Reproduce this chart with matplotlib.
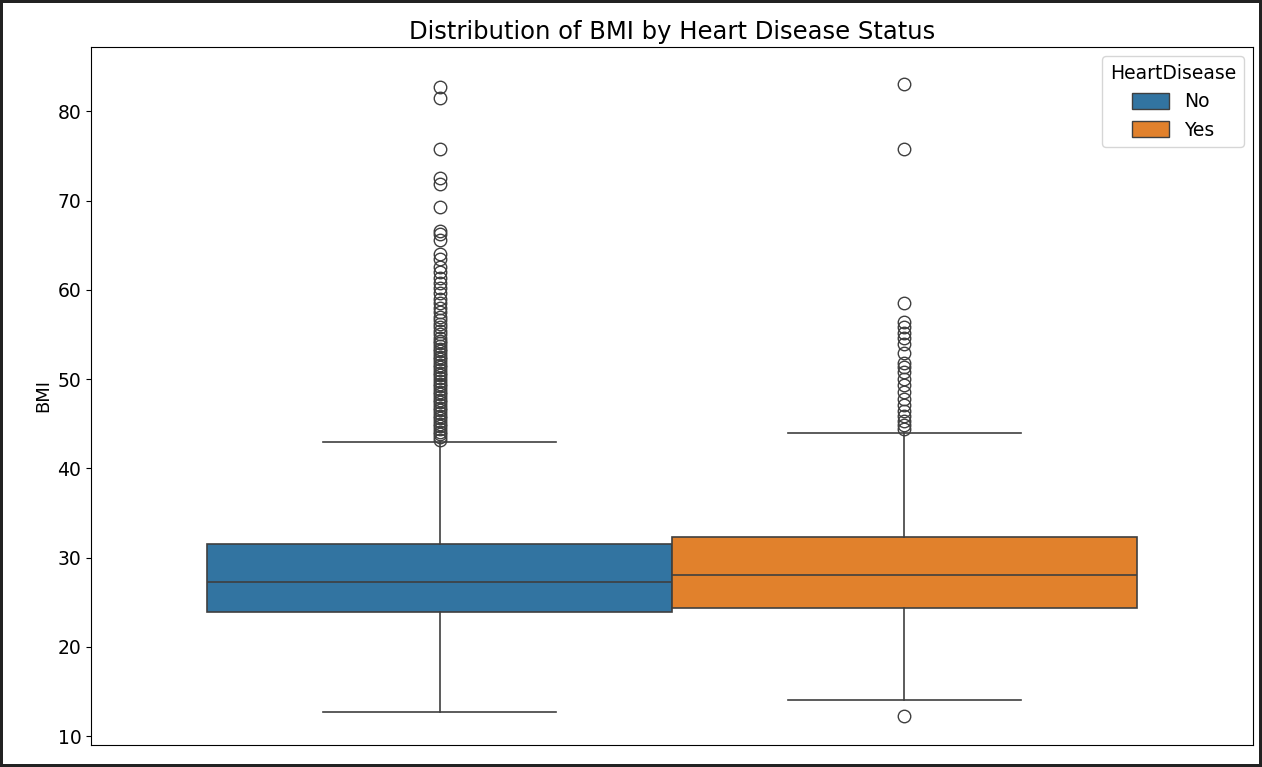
import matplotlib.pyplot as plt
from matplotlib.patches import Patch

groups = ["No", "Yes"]
colors = ["#3274a1", "#e1812c"]
whislo = [12.7, 14.0]
q1 = [23.9, 24.4]
med = [27.3, 28.0]
q3 = [31.5, 32.3]
whishi = [43.0, 44.0]
fliers_no = [43.2, 43.5, 43.8, 44.1, 44.4, 44.7, 45.0, 45.3, 45.6, 45.9, 46.2, 46.5, 46.8,
             47.1, 47.4, 47.7, 48.0, 48.3, 48.6, 48.9, 49.2, 49.5, 49.8, 50.1, 50.4, 50.7,
             51.0, 51.3, 51.6, 51.9, 52.2, 52.5, 52.8, 53.1, 53.4, 53.7, 54.0, 54.3, 54.6,
             55.0, 55.4, 55.8, 56.2, 56.6, 57.0, 57.5, 58.0, 58.5, 59.0, 59.6, 60.2, 60.8,
             61.3, 62.0, 62.6, 63.4, 64.0, 65.6, 66.3, 66.6, 69.3, 71.8, 72.5, 75.8, 81.5, 82.7]
fliers_yes = [12.3, 44.4, 44.8, 45.3, 45.9, 46.4, 47.1, 47.8, 48.6, 49.3, 50.0, 50.8,
              51.3, 51.8, 52.9, 53.9, 54.6, 55.2, 55.8, 56.4, 58.5, 75.8, 83.0]

stats = []
for i, g in enumerate(groups):
    stats.append(dict(whislo=whislo[i], q1=q1[i], med=med[i], q3=q3[i], whishi=whishi[i],
                      fliers=[fliers_no, fliers_yes][i], label=g))

fig = plt.figure(figsize=(12.62, 7.67), dpi=100)
fig.patch.set_edgecolor("#222")
fig.patch.set_linewidth(3)
ax = fig.add_axes([91/1262, 1-745/767, 1162/1262, 698/767])
lc = "#3f3f3f"
for i, st in enumerate(stats):
    ax.bxp([st], positions=[-0.2 + 0.4*i], widths=[0.4], patch_artist=True,
           boxprops=dict(facecolor=colors[i], edgecolor=lc, linewidth=1.2),
           medianprops=dict(color=lc, linewidth=1.2),
           whiskerprops=dict(color=lc, linewidth=1.2),
           capprops=dict(color=lc, linewidth=1.2),
           flierprops=dict(marker="o", markerfacecolor="none", markeredgecolor=lc,
                           markersize=9, linewidth=0))
ax.set_xlim(-0.5, 0.5)
ax.set_ylim(9.0, 87.2)
ax.set_xticks([])
ax.set_ylabel("BMI", fontsize=13)
ax.tick_params(labelsize=13.5)
ax.set_title("Distribution of BMI by Heart Disease Status", fontsize=17.5)
ax.legend(handles=[Patch(facecolor=c, edgecolor=lc, label=g) for c, g in zip(colors, groups)],
          title="HeartDisease", loc="upper right", fontsize=13.5, title_fontsize=13.5,
          handleheight=0.9)
fig.savefig("out.png", dpi=100)
